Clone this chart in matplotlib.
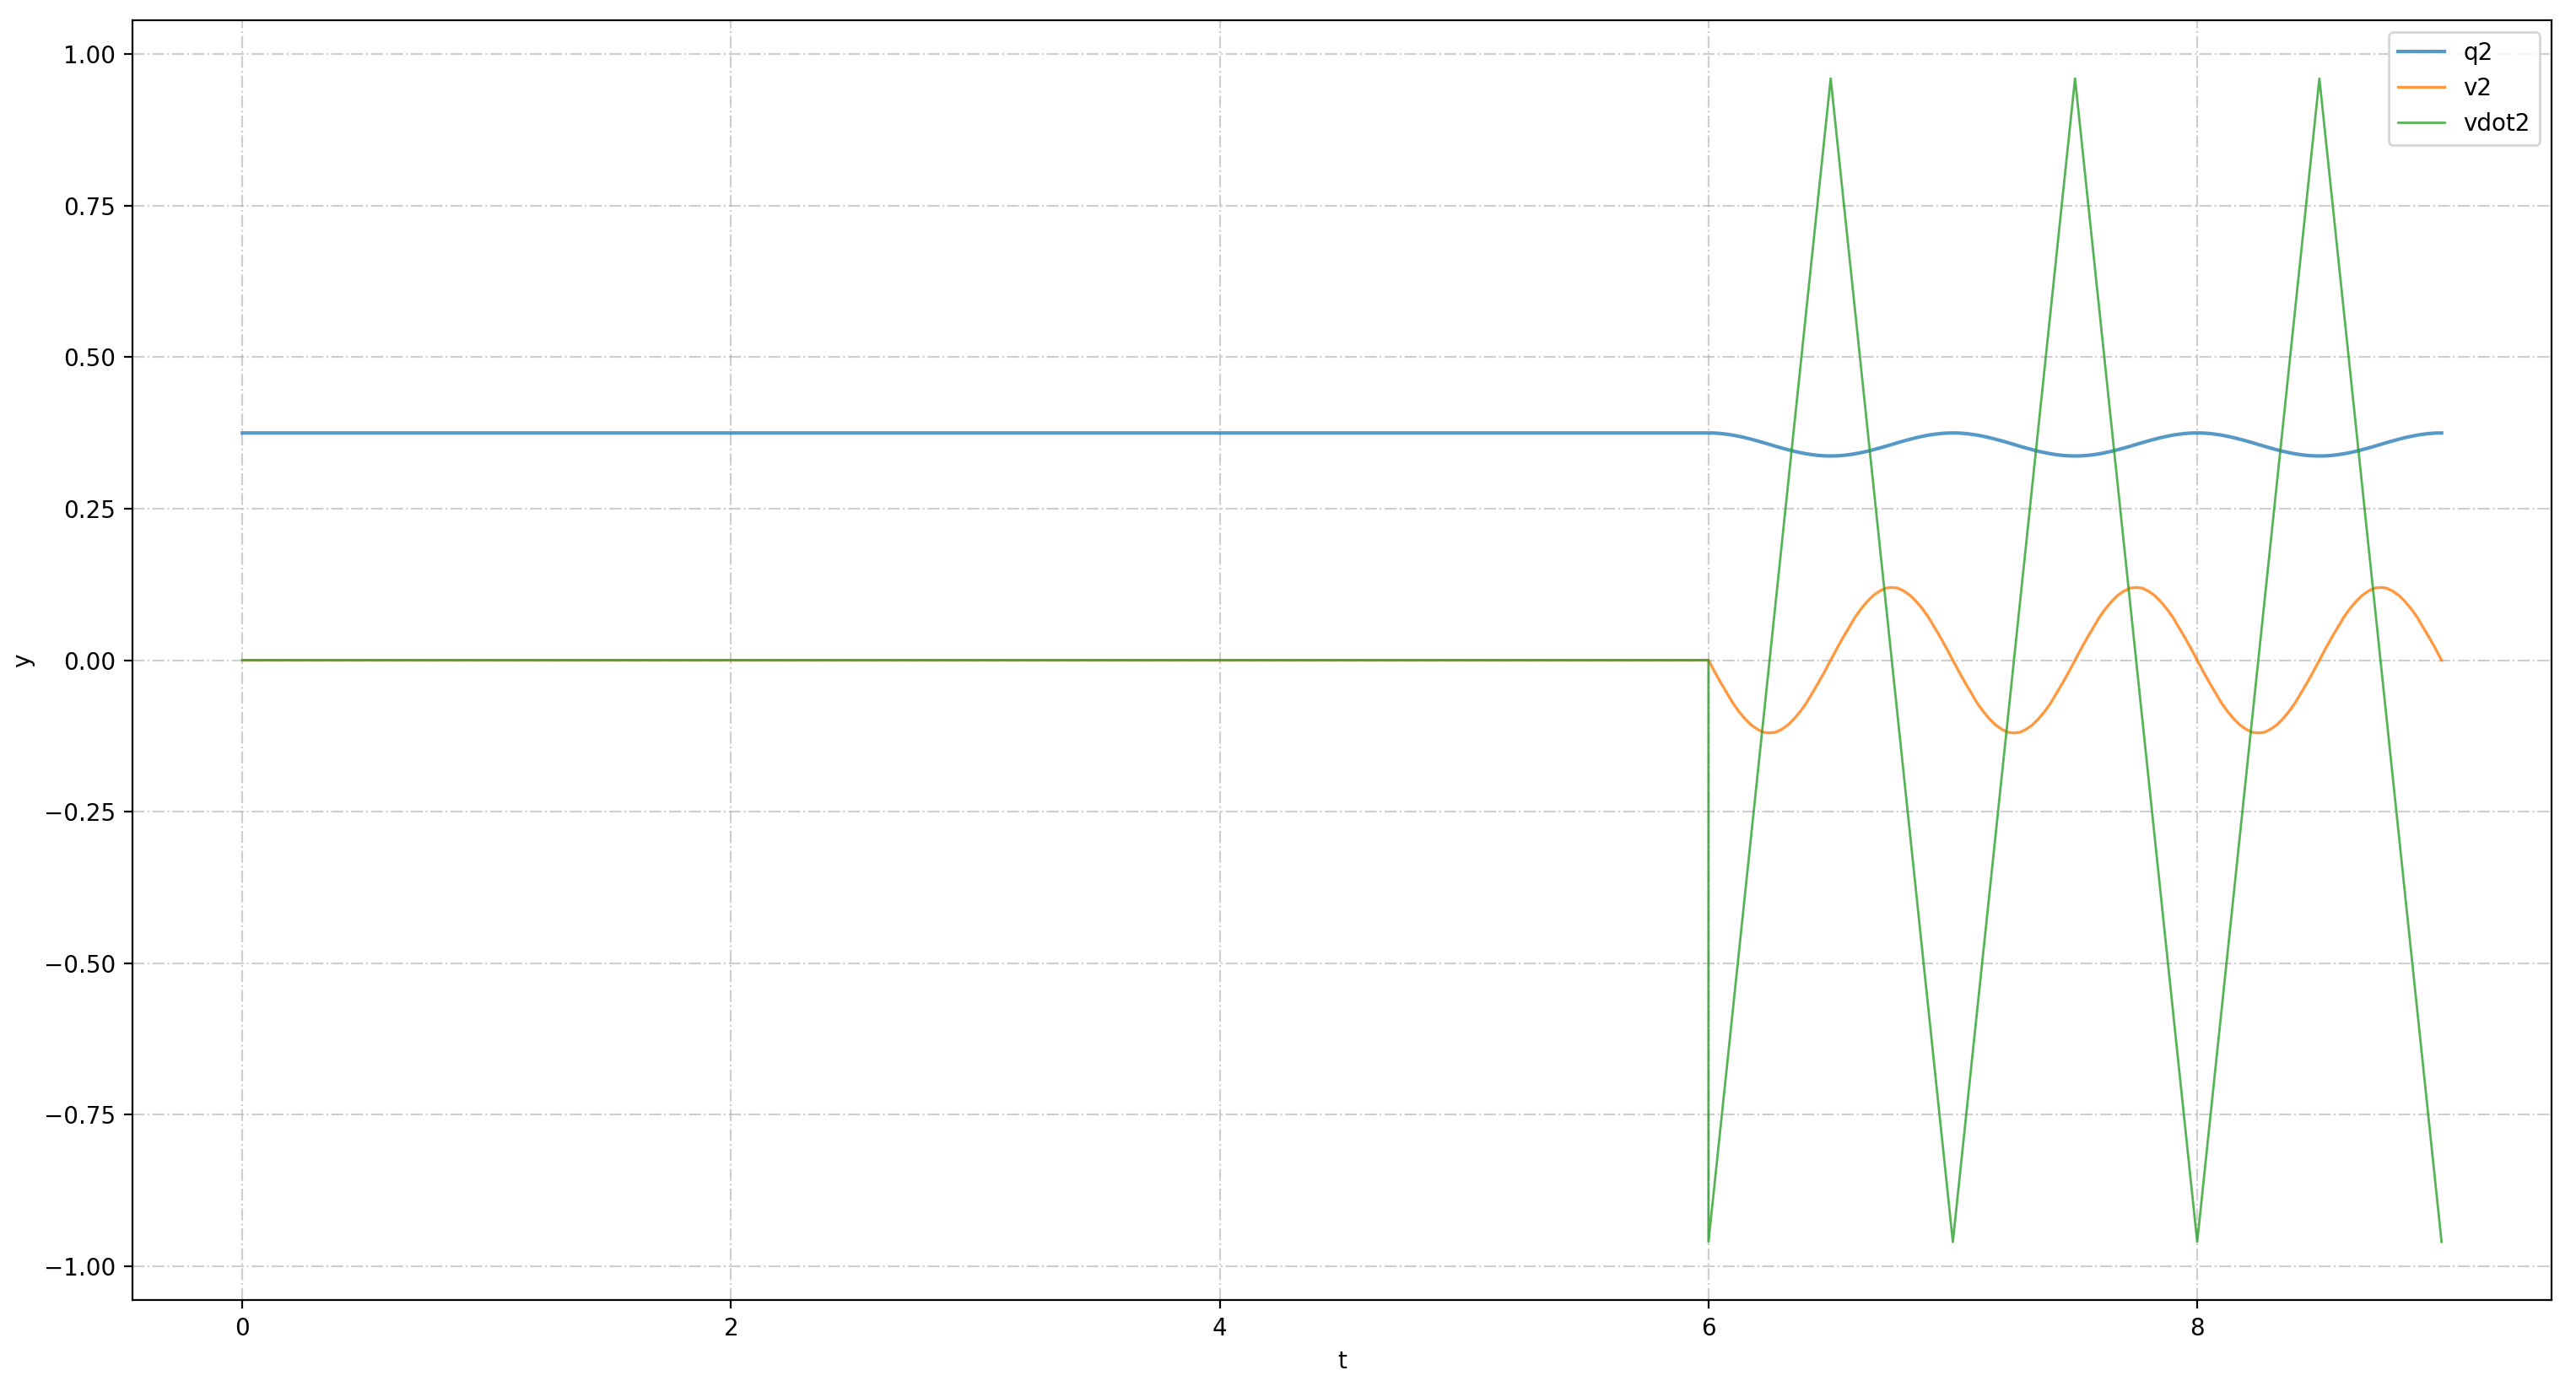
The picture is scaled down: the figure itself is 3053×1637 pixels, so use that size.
import matplotlib
matplotlib.use("Agg")
import matplotlib.pyplot as plt

# time samples
t_flat = [0.0, 6.0]
t_osc = [6.0 + 0.025 * k for k in range(121)]

# q2: flat at 0.375, then small oscillation (period 1) between 0.375 and ~0.337
q2_half = [0.3750, 0.3748, 0.3741, 0.3729, 0.3714, 0.3694, 0.3672, 0.3646, 0.3619, 0.3590,
           0.3560, 0.3530, 0.3501, 0.3474, 0.3448, 0.3426, 0.3406, 0.3391, 0.3379, 0.3372]
q2_period = q2_half + [0.3370] + q2_half[:0:-1]
# v2: zero, then oscillation with amplitude ~0.12
v2_quarter = [0.000, 0.019, 0.037, 0.054, 0.071, 0.085, 0.097, 0.107, 0.114, 0.119]
v2_half_pos = v2_quarter + [0.120] + v2_quarter[:0:-1]
v2_period = [-v for v in v2_half_pos] + v2_half_pos

q2_flat = [0.375, 0.375]
v2_flat = [0.0, 0.0]
q2_osc = q2_period * 3 + [0.375]
v2_osc = v2_period * 3 + [0.000]

# vdot2: zero, then jump and triangle wave between -0.96 and 0.96
t_vdot = [0.0, 6.0, 6.0, 6.5, 7.0, 7.5, 8.0, 8.5, 9.0]
vdot2 = [0.0, 0.0, -0.96, 0.96, -0.96, 0.96, -0.96, 0.96, -0.96]

t_q = t_flat + t_osc
q2 = q2_flat + q2_osc
v2 = v2_flat + v2_osc

fig = plt.figure(figsize=(15.265, 8.185), dpi=200)
ax = fig.add_subplot(111)
fig.subplots_adjust(left=0.0514, right=0.9905, top=0.9853, bottom=0.0586)

ax.plot(t_q, q2, label="q2", color="#1f77b4", lw=1.5, alpha=0.75)
ax.plot(t_q, v2, label="v2", color="#ff7f0e", lw=1.2, alpha=0.8)
ax.plot(t_vdot, vdot2, label="vdot2", color="#2ca02c", lw=1.0, alpha=0.8)

ax.set_xlabel("t")
ax.set_ylabel("y")
ax.grid(True, linestyle="-.", color="#b0b0b0", alpha=0.6)
ax.legend(loc="upper right")

fig.savefig("out.png", dpi=200)
